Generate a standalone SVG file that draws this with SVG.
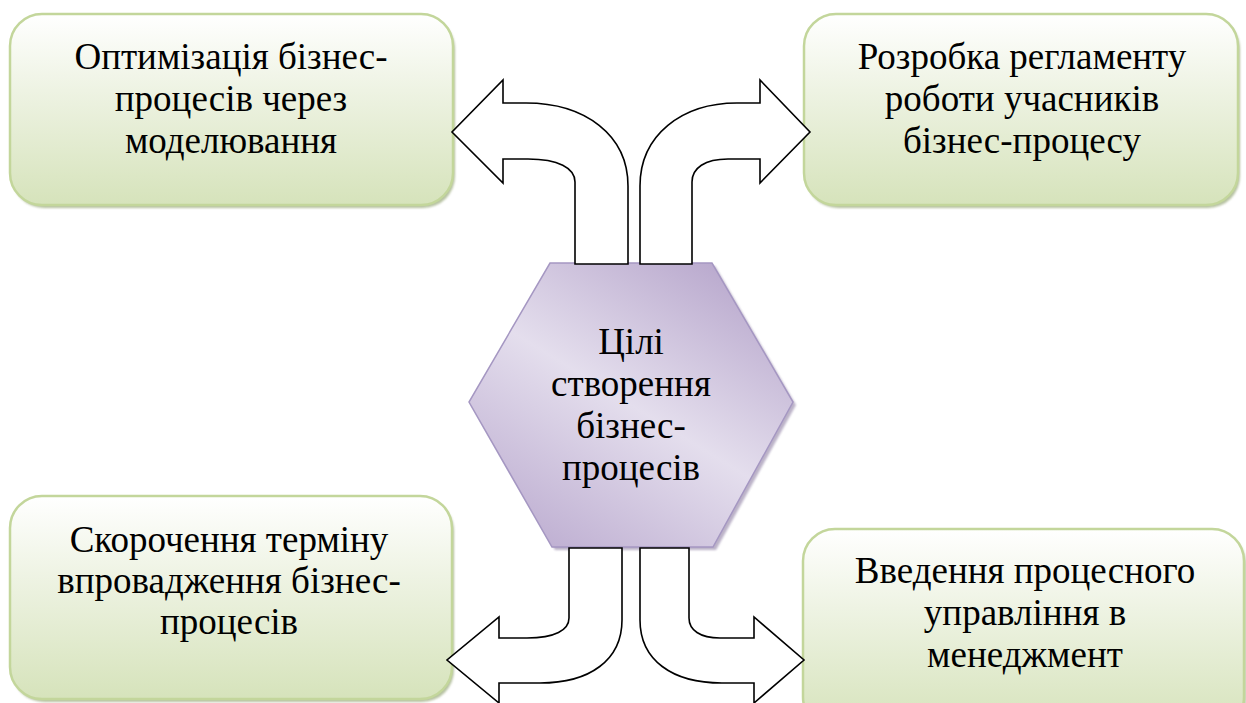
<svg xmlns="http://www.w3.org/2000/svg" width="1246" height="703" viewBox="0 0 1246 703">
<defs>
<linearGradient id="gBox" x1="0" y1="0" x2="0" y2="1">
<stop offset="0" stop-color="#ffffff"/>
<stop offset="0.4" stop-color="#eef3e3"/>
<stop offset="1" stop-color="#d6e3bb"/>
</linearGradient>
<linearGradient id="gHex" x1="0.85" y1="0" x2="0.15" y2="1">
<stop offset="0" stop-color="#b6a5cb"/>
<stop offset="0.5" stop-color="#e4deed"/>
<stop offset="1" stop-color="#bcacd0"/>
</linearGradient>
<filter id="blur" x="-5%" y="-5%" width="110%" height="110%"><feGaussianBlur stdDeviation="1"/></filter>
<style>
.box{fill:url(#gBox);stroke:#c3d69b;stroke-width:2.5}
.bshadow{fill:#9fae82;opacity:0.75}
.hex{fill:url(#gHex);stroke:#a597c2;stroke-width:1.5}
.hshadow{fill:#8e7fa3;opacity:0.6}
.arrow{fill:#ffffff;stroke:#000000;stroke-width:1.6;stroke-linejoin:miter}
text{font-family:"Liberation Serif","Times New Roman",serif;font-size:37px;fill:#000;text-anchor:middle}
</style>
</defs>
<rect width="1246" height="703" fill="#ffffff"/>

<g id="node-tl">
<rect class="bshadow" x="12" y="17" width="443" height="191" rx="32" filter="url(#blur)"/>
<rect class="box" x="10" y="14" width="443" height="191" rx="32"/>
<text x="231" y="69">Оптимізація бізнес-</text>
<text x="231" y="111">процесів через</text>
<text x="231" y="153">моделювання</text>
</g>

<g id="node-tr">
<rect class="bshadow" x="806" y="17" width="434" height="191" rx="32" filter="url(#blur)"/>
<rect class="box" x="804" y="14" width="434" height="191" rx="32"/>
<text x="1022" y="69">Розробка регламенту</text>
<text x="1022" y="111">роботи учасників</text>
<text x="1022" y="153">бізнес-процесу</text>
</g>

<g id="node-bl">
<rect class="bshadow" x="12" y="499" width="442" height="203" rx="32" filter="url(#blur)"/>
<rect class="box" x="10" y="496" width="442" height="203" rx="32"/>
<text x="229" y="552">Скорочення терміну</text>
<text x="229" y="593">впровадження бізнес-</text>
<text x="229" y="634">процесів</text>
</g>

<g id="node-br">
<rect class="bshadow" x="805" y="532" width="441" height="200" rx="32" filter="url(#blur)"/>
<rect class="box" x="803" y="529" width="441" height="200" rx="32"/>
<text x="1025" y="583">Введення процесного</text>
<text x="1025" y="625">управління в</text>
<text x="1025" y="667">менеджмент</text>
</g>

<g id="node-center">
<polygon class="hshadow" points="553,266 715,266 796,405 716,550 555,550 472,405" filter="url(#blur)"/>
<polygon class="hex" points="550,263 712,263 793,402 713,547 552,547 469,402"/>
<text x="631" y="354">Цілі</text>
<text x="631" y="396">створення</text>
<text x="631" y="438">бізнес-</text>
<text x="631" y="480">процесів</text>
</g>

<g id="connectors">
<path class="arrow" d="M575,264 L575,182 C575,168 558,159 528,159 L503,159 L503,183 L452,132 L503,80 L503,103 L526,103 C585,103 628,135 628,186 L628,264 Z"/>
<path class="arrow" d="M640,264 L640,186 C640,135 682,103 737,103 L760,103 L760,80 L810,132 L760,183 L760,159 L728,159 C705,159 692,168 692,182 L692,264 Z"/>
<path class="arrow" d="M569,548 L569,618 C569,630 555,638 527,638 L499,638 L499,617 L447,660 L499,703 L499,683 L540,683 C590,683 622,660 622,620 L622,548 Z"/>
<path class="arrow" d="M640,548 L640,620 C640,660 672,683 722,683 L754,683 L754,703 L804,660 L754,617 L754,638 L720,638 C700,638 689,630 689,618 L689,548 Z"/>
</g>
</svg>
